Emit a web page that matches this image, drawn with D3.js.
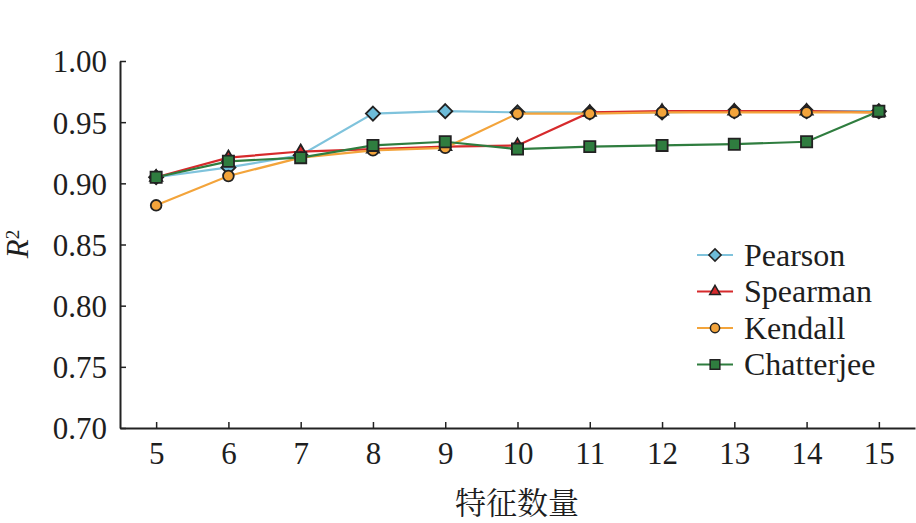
<!DOCTYPE html>
<html>
    <head>
        <meta charset="utf-8">
        <script src="https://d3js.org/d3.v7.min.js"></script>
        <style>
            body{margin:0;background:#fff;}
            text{font-family:"Liberation Serif","Times New Roman",serif;fill:#1e1e1e;}
        </style>
    </head>
    <body>
        <svg height="523" width="916" id="chart"></svg>
        <script>
            // data
            const features=[5,6,7,8,9,10,11,12,13,14,15];
            const pearson=[0.905,0.913,0.923,0.957,0.959,0.958,0.958,0.958,0.959,0.959,0.959];
            const spearman=[0.905,0.921,0.926,0.928,0.930,0.931,0.958,0.959,0.959,0.959,0.958];
            const kendall=[0.882,0.906,0.921,0.927,0.929,0.957,0.957,0.958,0.958,0.958,0.958];
            const chatterjee=[0.905,0.918,0.921,0.931,0.934,0.928,0.930,0.931,0.932,0.934,0.959];
            const yTicks=[0.70,0.75,0.80,0.85,0.90,0.95,1.00];

            // diamond = square turned 45 degrees
            const squareDiamond={draw:(ctx,size)=>{
                let r=Math.sqrt(size/2);
                ctx.moveTo(0,-r);ctx.lineTo(r,0);ctx.lineTo(0,r);ctx.lineTo(-r,0);ctx.closePath();
            }};

            const series=[
                {name:"Pearson", values:pearson, line:"#7fc3dc", fill:"#6dbcd9", symbol:squareDiamond, size:100},
                {name:"Spearman", values:spearman, line:"#d62a2c", fill:"#d62a2c", symbol:d3.symbolTriangle, size:65},
                {name:"Kendall", values:kendall, line:"#f3a43b", fill:"#f3a43b", symbol:d3.symbolCircle, size:90},
                {name:"Chatterjee", values:chatterjee, line:"#2f7d3f", fill:"#2f7d3f", symbol:d3.symbolSquare, size:125}
            ];

            let svg=d3.select("#chart");
            let x=d3.scaleLinear().domain([4.5,15.5]).range([120,915]);
            let y=d3.scaleLinear().domain([0.70,1.00]).range([428,61]);

            // axes, ticks pointing inward
            let xAxis=svg.append("g")
                .attr("transform","translate(0,428)")
                .call(d3.axisBottom(x).tickValues(features).tickSize(-6).tickPadding(14).tickSizeOuter(0));
            let yAxis=svg.append("g")
                .attr("transform","translate(120,0)")
                .call(d3.axisLeft(y).tickValues(yTicks).tickSize(-6).tickPadding(13).tickSizeOuter(0).tickFormat(d3.format(".2f")));
            [xAxis,yAxis].forEach(a=>{
                a.select(".domain").attr("stroke","#222").attr("stroke-width",2);
                a.selectAll(".tick line").attr("stroke","#222").attr("stroke-width",1.5);
                a.selectAll(".tick text").style("font-size","31px").attr("fill","#1e1e1e");
            });
            yAxis.selectAll(".tick text").attr("dy","0.35em");

            // axis titles
            svg.append("text")
                .attr("x",517).attr("y",514)
                .attr("text-anchor","middle")
                .style("font-family","'Noto Serif CJK SC','Noto Sans CJK SC',serif")
                .style("font-size","31px")
                .text("特征数量");
            let yt=svg.append("text")
                .attr("transform","translate(28,244) rotate(-90)")
                .attr("text-anchor","middle")
                .style("font-size","31px");
            yt.append("tspan").style("font-style","italic").text("R");
            yt.append("tspan").attr("dy","-0.45em").style("font-size","19px").text("2");

            let line=d3.line().x((d,i)=>x(features[i])).y(d=>y(d));

            series.forEach(s=>{
                let g=svg.append("g");
                g.append("path")
                    .datum(s.values)
                    .attr("d",line)
                    .attr("fill","none")
                    .attr("stroke",s.line)
                    .attr("stroke-width",2.2);
                g.selectAll("path.mark")
                    .data(s.values)
                    .join("path")
                    .attr("class","mark")
                    .attr("transform",(d,i)=>`translate(${x(features[i])},${y(d)})`)
                    .attr("d",d3.symbol().type(s.symbol).size(s.size))
                    .attr("fill",s.fill)
                    .attr("stroke","#222")
                    .attr("stroke-width",1.8);
            });

            // legend
            let legend=svg.append("g").attr("transform","translate(697,255)");
            series.forEach((s,i)=>{
                let row=legend.append("g").attr("transform",`translate(0,${i*36.5})`);
                row.append("line").attr("x1",0).attr("x2",36).attr("y1",0).attr("y2",0)
                    .attr("stroke",s.line).attr("stroke-width",2.2);
                row.append("path")
                    .attr("transform","translate(18,0)")
                    .attr("d",d3.symbol().type(s.symbol).size(s.size*0.75))
                    .attr("fill",s.fill).attr("stroke","#222").attr("stroke-width",1.5);
                row.append("text").attr("x",47).attr("y",0).attr("dy","0.33em")
                    .style("font-size","32px").text(s.name);
            });
        </script>
    </body>
</html>
